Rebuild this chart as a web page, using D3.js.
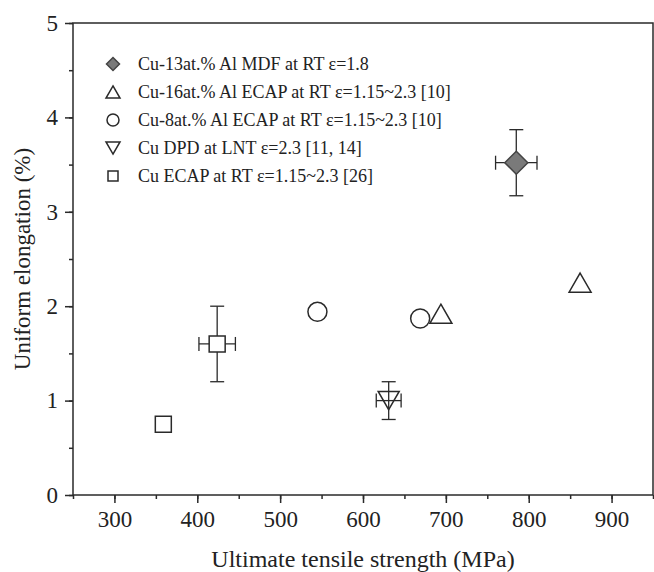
<!DOCTYPE html>
<html>
<head>
<meta charset="utf-8">
<script src="https://cdn.jsdelivr.net/npm/d3@7"></script>
<style>
  body { margin: 0; background: #fff; }
  text { font-family: "Liberation Serif", "DejaVu Serif", serif; fill: #222; }
</style>
</head>
<body>
<div id="chart"></div>
<script>
// series labels and marker shapes (legend order)
var seriesNames = [
    "Cu-13at.% Al MDF at RT \u03b5=1.8",
    "Cu-16at.% Al ECAP at RT \u03b5=1.15~2.3 [10]",
    "Cu-8at.% Al ECAP at RT \u03b5=1.15~2.3 [10]",
    "Cu DPD at LNT \u03b5=2.3 [11, 14]",
    "Cu ECAP at RT \u03b5=1.15~2.3 [26]"
];
var seriesShapes = ["diamond", "triangle", "circle", "triangleDown", "square"];

// values per series: strength (MPa), elongation (%), errors
var mdfX = [785],      mdfY = [3.52],      mdfXErr = [25],    mdfYErr = [0.35];
var al16X = [694, 862], al16Y = [1.92, 2.25], al16XErr = [0, 0], al16YErr = [0, 0];
var al8X = [545, 669],  al8Y = [1.94, 1.87],  al8XErr = [0, 0],  al8YErr = [0, 0];
var dpdX = [631],      dpdY = [1.0],       dpdXErr = [15],    dpdYErr = [0.2];
var ecapX = [359, 424], ecapY = [0.75, 1.6], ecapXErr = [0, 22], ecapYErr = [0, 0.4];

var xMajorTicks = [300, 400, 500, 600, 700, 800, 900];
var yMajorTicks = [0, 1, 2, 3, 4, 5];

var seriesX = [mdfX, al16X, al8X, dpdX, ecapX];
var seriesY = [mdfY, al16Y, al8Y, dpdY, ecapY];
var seriesXErr = [mdfXErr, al16XErr, al8XErr, dpdXErr, ecapXErr];
var seriesYErr = [mdfYErr, al16YErr, al8YErr, dpdYErr, ecapYErr];

var width = 654, height = 572;
var margin = {top: 23, right: 1, bottom: 77, left: 73};
var ink = "#2a2a2a";

var svg = d3.select("#chart").append("svg")
    .attr("width", width)
    .attr("height", height);

var x = d3.scaleLinear().domain([250, 950]).range([margin.left, width - margin.right]);
var y = d3.scaleLinear().domain([0, 5]).range([height - margin.bottom, margin.top]);

// marker outline relative to its centre, s = overall size
function shapePath(shape, s) {
    var h = s / 2;
    if (shape == "diamond") return "M0," + (-h) + "L" + h + ",0L0," + h + "L" + (-h) + ",0Z";
    if (shape == "triangle") return "M0," + (-h * 0.87) + "L" + h + "," + (h * 0.87) + "L" + (-h) + "," + (h * 0.87) + "Z";
    if (shape == "triangleDown") return "M0," + (h * 0.87) + "L" + h + "," + (-h * 0.87) + "L" + (-h) + "," + (-h * 0.87) + "Z";
    if (shape == "square") return "M" + (-h) + "," + (-h) + "h" + s + "v" + s + "h" + (-s) + "Z";
    return "M" + h + ",0A" + h + "," + h + " 0 1,1 " + (-h) + ",0A" + h + "," + h + " 0 1,1 " + h + ",0Z";
}
var plotSize = {diamond: 23, triangle: 22, circle: 19, triangleDown: 21, square: 16};
var legendSize = {diamond: 13, triangle: 14, circle: 12, triangleDown: 14, square: 10};
function shapeFill(shape) {
    if (shape == "diamond") return "#7a7a7a";
    if (shape == "triangleDown") return "none";
    return "#fff";
}

// axes: major + minor ticks
var xAxis = d3.axisBottom(x).tickValues(xMajorTicks).tickSize(8).tickPadding(8).tickFormat(d3.format("d"));
var xMinor = d3.axisBottom(x).tickValues(d3.range(250, 951, 50)).tickSize(4).tickFormat("");
var yAxis = d3.axisLeft(y).tickValues(yMajorTicks).tickSize(8).tickPadding(7).tickFormat(d3.format("d"));
var yMinor = d3.axisLeft(y).tickValues(d3.range(0, 5.01, 0.5)).tickSize(4).tickFormat("");

function styleAxis(g) {
    g.select(".domain").remove();
    g.selectAll("line").attr("stroke", ink).attr("stroke-width", 1.5);
    g.selectAll("text").style("font-size", "23px").attr("fill", "#222");
}

svg.append("g").attr("transform", "translate(0," + y(0) + ")").call(xMinor).call(styleAxis);
svg.append("g").attr("transform", "translate(0," + y(0) + ")").call(xAxis).call(styleAxis);
svg.append("g").attr("transform", "translate(" + x(250) + ",0)").call(yMinor).call(styleAxis);
svg.append("g").attr("transform", "translate(" + x(250) + ",0)").call(yAxis).call(styleAxis);

// frame
svg.append("rect")
    .attr("x", x(250))
    .attr("y", y(5))
    .attr("width", x(950) - x(250))
    .attr("height", y(0) - y(5))
    .attr("fill", "none")
    .attr("stroke", ink)
    .attr("stroke-width", 1.5);

// axis titles
svg.append("text")
    .attr("x", (x(250) + x(950)) / 2)
    .attr("y", 567)
    .attr("text-anchor", "middle")
    .style("font-size", "24px")
    .text("Ultimate tensile strength (MPa)");

svg.append("text")
    .attr("transform", "translate(30," + ((y(0) + y(5)) / 2) + ") rotate(-90)")
    .attr("text-anchor", "middle")
    .style("font-size", "23px")
    .text("Uniform elongation (%)");

// points with error bars
var cap = 7;
var marks = svg.append("g");
for (var i = 0; i < seriesNames.length; i++) {
    var shape = seriesShapes[i];
    for (var j = 0; j < seriesX[i].length; j++) {
        var vx = seriesX[i][j], vy = seriesY[i][j];
        var ex = seriesXErr[i][j], ey = seriesYErr[i][j];
        var g = marks.append("g")
            .attr("stroke", ink)
            .attr("stroke-width", 1.3);
        if (ey > 0) {
            g.append("line").attr("x1", x(vx)).attr("x2", x(vx)).attr("y1", y(vy + ey)).attr("y2", y(vy - ey));
            g.append("line").attr("x1", x(vx) - cap).attr("x2", x(vx) + cap).attr("y1", y(vy + ey)).attr("y2", y(vy + ey));
            g.append("line").attr("x1", x(vx) - cap).attr("x2", x(vx) + cap).attr("y1", y(vy - ey)).attr("y2", y(vy - ey));
        }
        if (ex > 0) {
            g.append("line").attr("x1", x(vx - ex)).attr("x2", x(vx + ex)).attr("y1", y(vy)).attr("y2", y(vy));
            g.append("line").attr("x1", x(vx - ex)).attr("x2", x(vx - ex)).attr("y1", y(vy) - cap).attr("y2", y(vy) + cap);
            g.append("line").attr("x1", x(vx + ex)).attr("x2", x(vx + ex)).attr("y1", y(vy) - cap).attr("y2", y(vy) + cap);
        }
        g.append("path")
            .attr("transform", "translate(" + x(vx) + "," + y(vy) + ")")
            .attr("d", shapePath(shape, plotSize[shape]))
            .attr("fill", shapeFill(shape))
            .attr("stroke-width", 1.5)
            .attr("stroke", shape == "diamond" ? "#444" : ink);
    }
}

// legend
var legendX = 113, legendY = 64, legendStep = 28;
for (var k = 0; k < seriesNames.length; k++) {
    var sh = seriesShapes[k];
    svg.append("path")
        .attr("transform", "translate(" + legendX + "," + (legendY + k * legendStep) + ")")
        .attr("d", shapePath(sh, legendSize[sh]))
        .attr("fill", sh == "triangleDown" ? "#fff" : shapeFill(sh))
        .attr("stroke", sh == "diamond" ? "#444" : ink)
        .attr("stroke-width", 1.5);
    svg.append("text")
        .attr("x", legendX + 25)
        .attr("y", legendY + k * legendStep + 6)
        .style("font-size", "18px")
        .text(seriesNames[k]);
}
</script>
</body>
</html>
